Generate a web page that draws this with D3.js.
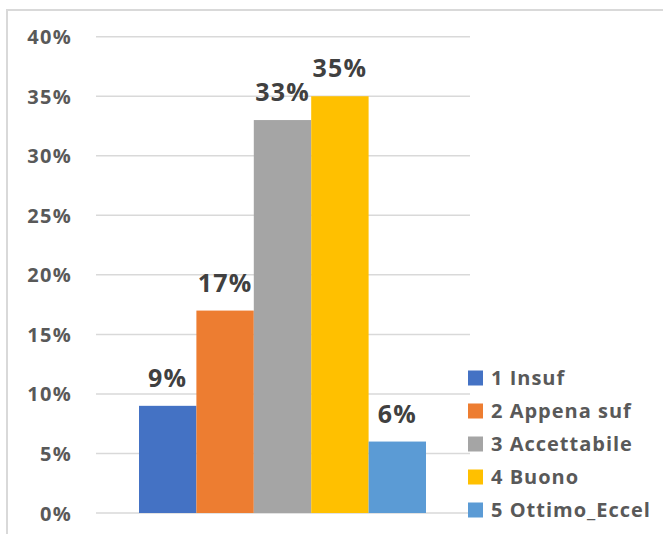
<!DOCTYPE html>
<html><head><meta charset="utf-8">
<script src="https://cdn.jsdelivr.net/npm/d3@7"></script>
<style>html,body{margin:0;padding:0;background:#fff;}svg{display:block;}</style>
</head><body>
<svg id="chart" width="663" height="534"></svg>
<script>
const categories = ["1 Insuf", "2 Appena suf", "3 Accettabile", "4 Buono", "5 Ottimo_Eccel"];
const values = [9, 17, 33, 35, 6];
const colors = ["#4472C4", "#ED7D31", "#A5A5A5", "#FFC000", "#5B9BD5"];
const tickValues = [0, 5, 10, 15, 20, 25, 30, 35, 40];

const svg = d3.select("#chart");
const font = "'Open Sans', 'Segoe UI', sans-serif";

// frame
svg.append("path").attr("d", "M7,540 L7,10 L670,10")
  .attr("fill", "none").attr("stroke", "#d9d9d9").attr("stroke-width", 2);

const y = d3.scaleLinear().domain([0, 40]).range([513, 36.7]);
const x = d3.scaleBand().domain(categories).range([139, 426]).padding(0);

// gridlines
svg.append("g").selectAll("line").data(tickValues).join("line")
  .attr("x1", 96).attr("x2", 470)
  .attr("y1", d => y(d)).attr("y2", d => y(d))
  .attr("stroke", "#d9d9d9").attr("stroke-width", 1.5);

// y axis labels
const yAxis = d3.axisLeft(y).tickValues(tickValues).tickFormat(d => d + "%").tickSize(0).tickPadding(0);
const yg = svg.append("g").attr("transform", "translate(72,0)").call(yAxis);
yg.select(".domain").remove();
yg.selectAll("text").attr("font-family", font).attr("font-size", 20).attr("font-weight", 700)
  .attr("letter-spacing", 1.3)
  .attr("fill", "#595959").attr("dy", "0.35em");

// bars
svg.append("g").selectAll("rect").data(values).join("rect")
  .attr("x", (d, i) => x(categories[i]))
  .attr("width", x.bandwidth())
  .attr("y", d => y(d))
  .attr("height", d => y(0) - y(d))
  .attr("fill", (d, i) => colors[i]);

// data labels
svg.append("g").selectAll("text").data(values).join("text")
  .attr("x", (d, i) => x(categories[i]) + x.bandwidth() / 2)
  .attr("y", d => y(d) - 19)
  .attr("text-anchor", "middle")
  .attr("font-family", font).attr("font-size", 25).attr("font-weight", 700)
  .attr("letter-spacing", 1.2)
  .attr("fill", "#404040")
  .text(d => d + "%");

// legend
const lg = svg.append("g");
const rowY = d => 378 + d * 33;
lg.selectAll("rect").data(categories).join("rect")
  .attr("x", 468).attr("y", (d, i) => rowY(i) - 7.5)
  .attr("width", 15).attr("height", 15)
  .attr("fill", (d, i) => colors[i]);
lg.selectAll("text").data(categories).join("text")
  .attr("x", 491).attr("y", (d, i) => rowY(i))
  .attr("dy", "0.35em")
  .attr("font-family", font).attr("font-size", 20).attr("font-weight", 700)
  .attr("letter-spacing", 1)
  .attr("fill", "#595959")
  .text(d => d);
</script>
</body></html>
